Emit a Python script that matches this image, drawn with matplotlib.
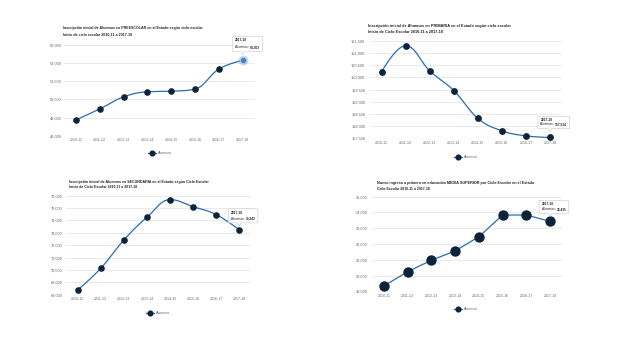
import matplotlib
matplotlib.use("Agg")
import matplotlib.pyplot as plt
from matplotlib.patches import Polygon
from matplotlib.path import Path
from matplotlib.patches import PathPatch
from matplotlib.lines import Line2D
from matplotlib.transforms import IdentityTransform

plt.rcParams['font.family'] = ['Liberation Sans', 'DejaVu Sans']

# ---------------- data ----------------
ciclos = ["2010-11", "2011-12", "2012-13", "2013-14", "2014-15", "2015-16", "2016-17", "2017-18"]
preescolar = [47740, 48950, 50280, 50840, 50910, 51140, 53350, 54303]
primaria = [160240, 161310, 160270, 159460, 158320, 157810, 157600, 157534]
secundaria = [68380, 70130, 72420, 74260, 75680, 75110, 74470, 73243]
media_superior = [19340, 20240, 20970, 21560, 22460, 23840, 23840, 23435]

titulos = [
    "Inscripción inicial de Alumnos en PREESCOLAR en el Estado según ciclo escolar",
    "Inscripción inicial de Alumnos en PRIMARIA en el Estado según ciclo escolar",
    "Inscripción inicial de Alumnos en SECUNDARIA en el Estado según Ciclo Escolar",
    "Nuevo ingreso a primero en educación MEDIA SUPERIOR por Ciclo Escolar en el Estado",
]
subtitulos = [
    "Inicio de ciclo escolar 2010-11 a 2017-18",
    "Inicio de Ciclo Escolar 2010-11 a 2017-18",
    "Inicio de Ciclo Escolar 2010-11 a 2017-18",
    "Ciclo Escolar 2010-11 a 2017-18",
]
serie = "Alumnos"
y_ranges = [(46000, 56000, 2000), (157500, 161500, 500), (68000, 76000, 1000), (19000, 25000, 1000)]

# ---------------- layout (pixels, top-left origin) ----------------
W, H = 640, 360
LINE_C = "#2b6cb0"
MARK_C = "#0d233a"
GRID_C = "#e6e6e6"
TICK_C = "#666666"
TEXT_C = "#222222"

panels = [
    # axes box (x0, x1, ytop, ybot), title x, title y1, y2, title widths, legend center x, legend y, spline, marker px
    dict(box=(64, 254.6, 45, 135.7), tx=63, ty=(27.5, 35), tw=(138, 68), lx=152, ly=153.3, spline=True, ms=5.2, halo=True,
         tip=(-10, 24, 9), ypad=1.8),
    dict(box=(369.7, 562, 41, 138.3), tx=368, ty=(25.5, 32.3), tw=(142, 75), lx=458, ly=156.7, spline=True, ms=5.4, halo=False,
         tip=(-12, 21, 9), ypad=3.2),
    dict(box=(66.1, 250.9, 195.7, 294.7), tx=69, ty=(181.7, 187.5), tw=(138, 67), lx=150, ly=313.3, spline=True, ms=5.2, halo=False,
         tip=(-11, 21, 7), ypad=2.8),
    dict(box=(372, 562, 196.7, 291.3), tx=376.7, ty=(182.7, 188.5), tw=(154, 51), lx=458, ly=309.3, spline=False, ms=9, halo=False,
         tip=(-11, 21, 8), ypad=3.0),
]
series = [preescolar, primaria, secundaria, media_superior]


def hc_spline(xs, ys, n=24):
    """Highcharts-style spline through points (cubic Bezier)."""
    sm, den = 1.5, 2.5
    N = len(xs)
    lc, rc = [None] * N, [None] * N
    for i in range(N):
        if 0 < i < N - 1:
            px, py = xs[i], ys[i]
            lx, ly = xs[i - 1], ys[i - 1]
            nx, ny = xs[i + 1], ys[i + 1]
            lcx = (sm * px + lx) / den
            lcy = (sm * py + ly) / den
            rcx = (sm * px + nx) / den
            rcy = (sm * py + ny) / den
            corr = 0
            if rcx != lcx:
                corr = ((rcy - lcy) * (rcx - px)) / (rcx - lcx) + py - rcy
            lcy += corr
            rcy += corr
            if lcy > ly and lcy > py:
                lcy = max(ly, py); rcy = 2 * py - lcy
            elif lcy < ly and lcy < py:
                lcy = min(ly, py); rcy = 2 * py - lcy
            if rcy > ny and rcy > py:
                rcy = max(ny, py); lcy = 2 * py - rcy
            elif rcy < ny and rcy < py:
                rcy = min(ny, py); lcy = 2 * py - rcy
            lc[i] = (lcx, lcy)
            rc[i] = (rcx, rcy)
        else:
            lc[i] = (xs[i], ys[i])
            rc[i] = (xs[i], ys[i])
    ox, oy = [xs[0]], [ys[0]]
    for i in range(1, N):
        p0 = (xs[i - 1], ys[i - 1]); p1 = rc[i - 1]; p2 = lc[i]; p3 = (xs[i], ys[i])
        for k in range(1, n + 1):
            t = k / n
            a, b, c, d = (1 - t) ** 3, 3 * (1 - t) ** 2 * t, 3 * (1 - t) * t ** 2, t ** 3
            ox.append(a * p0[0] + b * p1[0] + c * p2[0] + d * p3[0])
            oy.append(a * p0[1] + b * p1[1] + c * p2[1] + d * p3[1])
    return ox, oy


fig = plt.figure(figsize=(W / 100, H / 100), dpi=100)
fig.patch.set_facecolor("white")
renderer = fig.canvas.get_renderer()


def fx(x):
    return x / W


def fy(y):
    return 1 - y / H


def fit_text(x, y, s, target_w, **kw):
    t = fig.text(fx(x), fy(y), s, fontsize=3, **kw)
    w = t.get_window_extent(renderer).width
    t.set_fontsize(3 * target_w / w)
    return t


for p, vals, tit, sub, (y0, y1, ys) in zip(panels, series, titulos, subtitulos, y_ranges):
    x0, x1, yt, yb = p["box"]
    ax = fig.add_axes([fx(x0), fy(yb), (x1 - x0) / W, (yb - yt) / H])
    ax.set_xlim(-0.5, len(ciclos) - 0.5)
    ax.set_ylim(y0, y1)
    for s in ax.spines.values():
        s.set_visible(False)
    ax.set_yticks(list(range(y0, y1 + 1, ys)))
    ax.set_yticklabels([f"{v:,}" for v in range(y0, y1 + 1, ys)])
    ax.set_xticks(range(len(ciclos)))
    ax.set_xticklabels(ciclos)
    ax.tick_params(axis="y", length=0, labelsize=2.8, colors=TICK_C, pad=p["ypad"])
    ax.tick_params(axis="x", length=0, labelsize=2.6, colors=TICK_C, pad=1.8)
    ax.grid(axis="y", color=GRID_C, lw=0.6)
    ax.set_axisbelow(True)
    ax.patch.set_alpha(0)

    xs = list(range(len(vals)))
    if p["spline"]:
        sx, sy = hc_spline(xs, vals)
    else:
        sx, sy = xs, vals
    ax.plot(sx, sy, color=LINE_C, lw=0.9, zorder=3, clip_on=False)
    if p["halo"]:
        ax.plot(xs[-1:], vals[-1:], "o", ms=p["ms"] * 0.72 * 1.9, color="#7fb2e5", alpha=0.45,
                mec="none", zorder=4, clip_on=False)
        ax.plot(xs[-1:], vals[-1:], "o", ms=p["ms"] * 0.72 * 1.2, color="#4a7fb5", mec="#a9cdf0",
                mew=0.6, zorder=5, clip_on=False)
        ax.plot(xs[:-1], vals[:-1], "o", ms=p["ms"] * 0.72, color=MARK_C, mec=MARK_C, zorder=5, clip_on=False)
    else:
        ax.plot(xs, vals, "o", ms=p["ms"] * 0.72, color=MARK_C, mec=MARK_C, zorder=5, clip_on=False)

    # titles
    fit_text(p["tx"], p["ty"][0], tit, p["tw"][0], ha="left", va="center", weight="bold", color=TEXT_C)
    fit_text(p["tx"], p["ty"][1], sub, p["tw"][1], ha="left", va="center", weight="bold", color=TEXT_C)

    # legend
    lx, ly = p["lx"], p["ly"]
    fig.add_artist(Line2D([fx(lx - 4), fx(lx + 4)], [fy(ly), fy(ly)], color=LINE_C, lw=0.9))
    fig.add_artist(Line2D([fx(lx)], [fy(ly)], marker="o", ms=3.4, color=MARK_C, mec=MARK_C))
    fig.text(fx(lx + 6), fy(ly), serie, fontsize=2.6, color=TICK_C, ha="left", va="center")

    # tooltip on last point
    px, py = ax.transData.transform((xs[-1], vals[-1]))
    dx, top, bot = p["tip"]
    tx_ = px + dx + 2.5
    t1 = fig.text(tx_ / W, (py + top - 4) / H, ciclos[-1], fontsize=2.3, weight="bold",
                  color=TEXT_C, ha="left", va="center")
    t2 = fig.text(tx_ / W, (py + bot + 4.2) / H, serie + ": ", fontsize=2.3, color=TEXT_C,
                  ha="left", va="center")
    t3 = fig.text(0, 0, f"{vals[-1]:,}", fontsize=2.3, weight="bold", color=TEXT_C, ha="left", va="center")
    e2 = t2.get_window_extent(renderer)
    t3.set_position(((e2.x1 + 0.3) / W, (py + bot + 4.2) / H))
    e3 = t3.get_window_extent(renderer)
    bx0, bx1 = px + dx, e3.x1 + 2.5
    by0, by1 = py + bot, py + top
    cx = min(max(px, bx0 + 3), bx1 - 3)
    poly = [(bx0, by1), (bx1, by1), (bx1, by0), (cx + 2.5, by0), (px + (cx - px) * 0.4, py + 3.5 + (by0 - py - 3.5) * 0.2),
            (cx - 2.5, by0), (bx0, by0)]
    # simple callout: pointer toward the point
    poly = [(bx0, by1), (bx1, by1), (bx1, by0), (cx + 2.0, by0), (cx, by0 - 3.0), (cx - 2.0, by0), (bx0, by0)]
    fig.add_artist(Polygon(poly, closed=True, fc="white", ec="#cfcfcf", lw=0.5, transform=IdentityTransform(),
                           zorder=8, alpha=0.95))
    for t in (t1, t2, t3):
        t.set_zorder(9)

fig.savefig("out.png", dpi=100, facecolor="white")
